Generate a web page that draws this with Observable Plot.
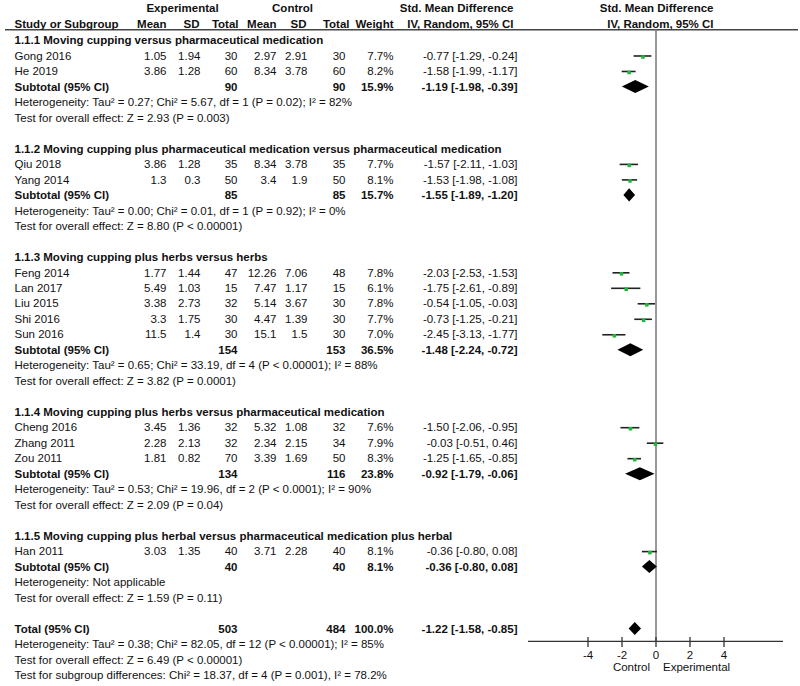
<!DOCTYPE html>
<html>
<head>
<meta charset="utf-8">
<script src="https://cdn.jsdelivr.net/npm/d3@7"></script>
<script src="https://cdn.jsdelivr.net/npm/@observablehq/plot@0.6"></script>
<style>
  body { margin: 0; background: #fff; }
  #chart { width: 800px; height: 686px; }
</style>
</head>
<body>
<div id="chart"></div>
<script>
// ---------- data ----------
const studies = ["Gong 2016","He 2019","Qiu 2018","Yang 2014","Feng 2014","Lan 2017","Liu 2015","Shi 2016","Sun 2016","Cheng 2016","Zhang 2011","Zou 2011","Han 2011"];
const studyGroup = [0,0,1,1,2,2,2,2,2,3,3,3,4];
const expMean = ["1.05","3.86","3.86","1.3","1.77","5.49","3.38","3.3","11.5","3.45","2.28","1.81","3.03"];
const expSD   = ["1.94","1.28","1.28","0.3","1.44","1.03","2.73","1.75","1.4","1.36","2.13","0.82","1.35"];
const expN    = [30,60,35,50,47,15,32,30,30,32,32,70,40];
const ctlMean = ["2.97","8.34","8.34","3.4","12.26","7.47","5.14","4.47","15.1","5.32","2.34","3.39","3.71"];
const ctlSD   = ["2.91","3.78","3.78","1.9","7.06","1.17","3.67","1.39","1.5","1.08","2.15","1.69","2.28"];
const ctlN    = [30,60,35,50,48,15,30,30,30,32,34,50,40];
const weight  = [7.7,8.2,7.7,8.1,7.8,6.1,7.8,7.7,7.0,7.6,7.9,8.3,8.1];
const smd     = [-0.77,-1.58,-1.57,-1.53,-2.03,-1.75,-0.54,-0.73,-2.45,-1.50,-0.03,-1.25,-0.36];
const smdLo   = [-1.29,-1.99,-2.11,-1.98,-2.53,-2.61,-1.05,-1.25,-3.13,-2.06,-0.51,-1.65,-0.80];
const smdHi   = [-0.24,-1.17,-1.03,-1.08,-1.53,-0.89,-0.03,-0.21,-1.77,-0.95,0.46,-0.85,0.08];

const groupTitles = [
  "1.1.1 Moving cupping versus pharmaceutical medication",
  "1.1.2 Moving cupping plus pharmaceutical medication versus pharmaceutical medication",
  "1.1.3 Moving cupping plus herbs versus herbs",
  "1.1.4 Moving cupping plus herbs versus pharmaceutical medication",
  "1.1.5 Moving cupping plus herbal versus pharmaceutical medication plus herbal"
];
const subExpN   = [90,85,154,134,40];
const subCtlN   = [90,85,153,116,40];
const subWeight = [15.9,15.7,36.5,23.8,8.1];
const subSmd    = [-1.19,-1.55,-1.48,-0.92,-0.36];
const subLo     = [-1.98,-1.89,-2.24,-1.79,-0.80];
const subHi     = [-0.39,-1.20,-0.72,-0.06,0.08];
const subHetero = [
  "Heterogeneity: Tau² = 0.27; Chi² = 5.67, df = 1 (P = 0.02); I² = 82%",
  "Heterogeneity: Tau² = 0.00; Chi² = 0.01, df = 1 (P = 0.92); I² = 0%",
  "Heterogeneity: Tau² = 0.65; Chi² = 33.19, df = 4 (P < 0.00001); I² = 88%",
  "Heterogeneity: Tau² = 0.53; Chi² = 19.96, df = 2 (P < 0.0001); I² = 90%",
  "Heterogeneity: Not applicable"
];
const subOverall = [
  "Test for overall effect: Z = 2.93 (P = 0.003)",
  "Test for overall effect: Z = 8.80 (P < 0.00001)",
  "Test for overall effect: Z = 3.82 (P = 0.0001)",
  "Test for overall effect: Z = 2.09 (P = 0.04)",
  "Test for overall effect: Z = 1.59 (P = 0.11)"
];
const totalLabel = "Total (95% CI)";
const totalExpN = 503, totalCtlN = 484, totalWeight = 100.0;
const totalSmd = -1.22, totalLo = -1.58, totalHi = -0.85;
const totalNotes = [
  "Heterogeneity: Tau² = 0.38; Chi² = 82.05, df = 12 (P < 0.00001); I² = 85%",
  "Test for overall effect: Z = 6.49 (P < 0.00001)",
  "Test for subgroup differences: Chi² = 18.37, df = 4 (P = 0.001), I² = 78.2%"
];
const xTicks = [-4,-2,0,2,4];
const axisLabels = ["Control","Experimental"];
const headerTop = ["Experimental","Control","Std. Mean Difference","Std. Mean Difference"];
const headerCols = ["Study or Subgroup","Mean","SD","Total","Mean","SD","Total","Weight","IV, Random, 95% CI","IV, Random, 95% CI"];

// ---------- layout ----------
const ML = 5;
const col = {name: 14, eMean: 166, eSD: 200, eN: 237, cMean: 276, cSD: 307, cN: 345, w: 393, ci: 517};
const fmtCI = (e, l, h) => `${e.toFixed(2)} [${l.toFixed(2)}, ${h.toFixed(2)}]`;
const pct = v => v.toFixed(1) + "%";

const normal = [], bold = [];
const studyRows = [], diamonds = [];
let r = 0;
groupTitles.forEach((title, g) => {
  bold.push({row: r, px: col.name, a: "start", t: title});
  r++;
  studies.forEach((s, i) => {
    if (studyGroup[i] !== g) return;
    normal.push({row: r, px: col.name, a: "start", t: s});
    normal.push({row: r, px: col.eMean, a: "end", t: expMean[i]});
    normal.push({row: r, px: col.eSD, a: "end", t: expSD[i]});
    normal.push({row: r, px: col.eN, a: "end", t: String(expN[i])});
    normal.push({row: r, px: col.cMean, a: "end", t: ctlMean[i]});
    normal.push({row: r, px: col.cSD, a: "end", t: ctlSD[i]});
    normal.push({row: r, px: col.cN, a: "end", t: String(ctlN[i])});
    normal.push({row: r, px: col.w, a: "end", t: pct(weight[i])});
    normal.push({row: r, px: col.ci, a: "end", t: fmtCI(smd[i], smdLo[i], smdHi[i])});
    studyRows.push({row: r, est: smd[i], lo: smdLo[i], hi: smdHi[i]});
    r++;
  });
  bold.push({row: r, px: col.name, a: "start", t: "Subtotal (95% CI)"});
  bold.push({row: r, px: col.eN, a: "end", t: String(subExpN[g])});
  bold.push({row: r, px: col.cN, a: "end", t: String(subCtlN[g])});
  bold.push({row: r, px: col.w, a: "end", t: pct(subWeight[g])});
  bold.push({row: r, px: col.ci, a: "end", t: fmtCI(subSmd[g], subLo[g], subHi[g])});
  diamonds.push({id: "g" + g, row: r, est: subSmd[g], lo: subLo[g], hi: subHi[g]});
  r++;
  normal.push({row: r, px: col.name, a: "start", t: subHetero[g]}); r++;
  normal.push({row: r, px: col.name, a: "start", t: subOverall[g]}); r++;
  r++;
});
bold.push({row: r, px: col.name, a: "start", t: totalLabel});
bold.push({row: r, px: col.eN, a: "end", t: String(totalExpN)});
bold.push({row: r, px: col.cN, a: "end", t: String(totalCtlN)});
bold.push({row: r, px: col.w, a: "end", t: pct(totalWeight)});
bold.push({row: r, px: col.ci, a: "end", t: fmtCI(totalSmd, totalLo, totalHi)});
diamonds.push({id: "total", row: r, est: totalSmd, lo: totalLo, hi: totalHi});
r++;
totalNotes.forEach(t => { normal.push({row: r, px: col.name, a: "start", t}); r++; });

// header
const hTopRow = -2.07, hRow = -1.03, hLine = -0.69;
bold.push({row: hTopRow, px: 182, a: "middle", t: headerTop[0]});
bold.push({row: hTopRow, px: 292, a: "middle", t: headerTop[1]});
bold.push({row: hTopRow, px: 513, a: "end", t: headerTop[2]});
bold.push({row: hTopRow, px: 713, a: "end", t: headerTop[3]});
const hPos = [[14,"start"],[166,"end"],[199,"end"],[238,"end"],[276,"end"],[306,"end"],[349,"end"],[393,"end"],[513,"end"],[713,"end"]];
headerCols.forEach((t, i) => bold.push({row: hRow, px: hPos[i][0], a: hPos[i][1], t}));

const dh = 0.42;
const diamondPts = diamonds.flatMap(d => [
  {id: d.id, x: d.lo, y1: d.row, y2: d.row},
  {id: d.id, x: d.est, y1: d.row - dh, y2: d.row + dh},
  {id: d.id, x: d.hi, y1: d.row, y2: d.row}
]);

const axisRow = 38.8;
const textMark = (data, weight) => ["start","middle","end"].map(a =>
  Plot.text(data.filter(d => d.a === a), {
    y: "row", text: "t", frameAnchor: "left", dx: d => 0, textAnchor: a,
    fontWeight: weight, fill: "#111"
  })
);
// dx is constant per mark; emulate per-datum column x by splitting on px
const textMarks = (data, weight) => {
  const keys = d3.groups(data, d => d.px + "|" + d.a);
  return keys.map(([k, arr]) => Plot.text(arr, {
    y: "row", text: "t", frameAnchor: "left", dx: arr[0].px - ML,
    textAnchor: arr[0].a, fontWeight: weight, fill: "#111"
  }));
};

const chart = Plot.plot({
  width: 800, height: 686,
  marginLeft: ML, marginRight: 2, marginTop: 0, marginBottom: 0,
  style: {fontFamily: "'Liberation Sans', Arial, sans-serif", fontSize: "11.5px", background: "#fff", color: "#111"},
  x: {domain: [-7.5, 7.5], range: [528, 783], axis: null},
  y: {domain: [0, 41], range: [40, 675], axis: null},
  marks: [
    Plot.ruleY([hLine], {stroke: "#444", strokeWidth: 1.5}),
    Plot.ruleX([0], {y1: hLine, y2: axisRow, stroke: "#777", strokeWidth: 1.5}),
    Plot.ruleY([axisRow], {x1: -7.5, x2: 7.5, stroke: "#333", strokeWidth: 1.3}),
    Plot.ruleX(xTicks, {x: d => d, y1: axisRow - 0.26, y2: axisRow + 0.39, stroke: "#333", strokeWidth: 1.3}),
    Plot.text(xTicks, {x: d => d, y: 39.72, text: d => String(d), fill: "#111"}),
    Plot.text([axisLabels[0]], {x: 0, y: 40.5, text: d => d, textAnchor: "end", dx: -6, fill: "#111"}),
    Plot.text([axisLabels[1]], {x: 0, y: 40.5, text: d => d, textAnchor: "start", dx: 7, fill: "#111"}),
    Plot.ruleY(studyRows, {y: "row", x1: "lo", x2: "hi", stroke: "#222", strokeWidth: 1.6}),
    Plot.dot(studyRows, {x: "est", y: "row", symbol: "square", r: 2, fill: "#1db83a", stroke: null, dy: 1}),
    Plot.areaY(diamondPts, {x: "x", y1: "y1", y2: "y2", z: "id", fill: "#000"}),
    ...textMarks(normal, "normal"),
    ...textMarks(bold, "bold")
  ]
});
document.getElementById("chart").appendChild(chart);
</script>
</body>
</html>
